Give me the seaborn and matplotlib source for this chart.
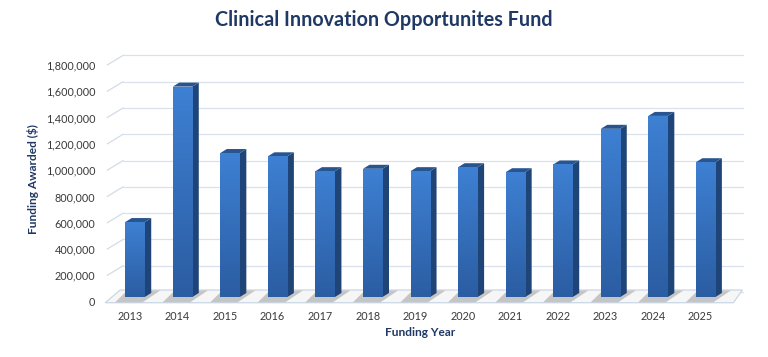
import numpy as np
import seaborn as sns
from matplotlib import pyplot as plt
from matplotlib.patches import Polygon
from matplotlib.colors import LinearSegmentedColormap
from matplotlib.ticker import FuncFormatter
from matplotlib.transforms import ScaledTranslation

years = ['2013', '2014', '2015', '2016', '2017', '2018', '2019',
         '2020', '2021', '2022', '2023', '2024', '2025']
funding = [570000, 1600000, 1095000, 1070000, 957000, 975000, 957000,
           987000, 949000, 1008000, 1279000, 1377000, 1025000]
y_ticks = list(range(0, 1800001, 200000))

title = 'Clinical Innovation Opportunites Fund'
navy = '#1f3864'
tick_col = '#3a3a3a'

sns.set_theme(style='white')
plt.rcParams['font.family'] = ['Lato', 'DejaVu Sans']

fig = plt.figure(figsize=(7.68, 3.57), dpi=100)
ax = fig.add_axes([111.2 / 768, 1 - 297 / 357, 618.2 / 768, 236.7 / 357])

sns.barplot(x=years, y=funding, color='#3672c2', width=0.41,
            saturation=1, linewidth=0, ax=ax, zorder=3)
bars = list(ax.patches)

ymax = 1800000
n = len(years)

# pixel -> data helpers for the fake 3d depth
px_x = 618.2 / n
px_y = 236.7 / ymax
def dx(px):
    return px / px_x
def dy(px):
    return px / px_y

bar_dx, bar_dy = dx(6.5), dy(4)
left, right = -0.5, n - 0.5

# slanted left wall ticks + back wall gridlines
for v in y_ticks:
    ax.plot([left - dx(4), left + dx(12)], [v - dy(4.7), v + dy(5)],
            color='#d3dce7', lw=0.9, zorder=0.5, clip_on=False)
    ax.plot([left + dx(12), right + dx(14)], [v + dy(5)] * 2,
            color='#d9e2ec', lw=0.9, zorder=0.5, clip_on=False)

# floor
ax.add_patch(Polygon([(left - dx(6), -dy(5.7)), (right + dx(4), -dy(5.7)),
                      (right + dx(13), dy(7)), (left + dx(9), dy(7))],
                     closed=True, facecolor='#f6f6f6', edgecolor='#c9d7e6',
                     lw=0.9, zorder=1, clip_on=False))

front_cmap = LinearSegmentedColormap.from_list('front', ['#2b5da2', '#3e80d3'])
side_col = '#1f4578'
top_col = '#28558f'

for p in bars:
    xl = p.get_x()
    xr = xl + p.get_width()
    h = p.get_height()
    # shadow on the floor
    ax.add_patch(Polygon([(xl + dx(2), dy(6.5)), (xr + bar_dx + dx(9), dy(6.5)),
                          (xr - dx(2), -dy(5.2)), (xl - dx(10), -dy(5.2))],
                         closed=True, facecolor='#b9b9b9', edgecolor='none',
                         alpha=0.8, zorder=1.5, clip_on=False))
    # side face
    ax.add_patch(Polygon([(xr, 0), (xr + bar_dx, bar_dy), (xr + bar_dx, h + bar_dy),
                          (xr, h)], closed=True, facecolor=side_col,
                         edgecolor='none', zorder=2, clip_on=False))
    # top face
    ax.add_patch(Polygon([(xl, h), (xr, h), (xr + bar_dx, h + bar_dy),
                          (xl + bar_dx, h + bar_dy)], closed=True,
                         facecolor=top_col, edgecolor='none', zorder=2,
                         clip_on=False))
    # gradient on the front face
    grad = np.linspace(0, 1, 100).reshape(-1, 1)
    im = ax.imshow(grad, extent=[xl, xr, 0, h], origin='lower', aspect='auto',
                   cmap=front_cmap, zorder=3.5)
    im.set_clip_path(p)

ax.set_ylim(0, ymax)
ax.set_xlim(left, right)
ax.set_aspect('auto')

ax.set_yticks(y_ticks)
ax.yaxis.set_major_formatter(FuncFormatter(lambda v, _: f'{int(v):,}'))
ax.tick_params(axis='y', length=0, pad=11.5, labelsize=7.8, labelcolor=tick_col)
ax.tick_params(axis='x', length=0, pad=10, labelsize=7.8, labelcolor=tick_col)
sns.despine(ax=ax, left=True, bottom=True)
ax.grid(False)

ax.set_xlabel('Funding Year', fontsize=8.6, fontweight='bold', color=navy,
              labelpad=4)
ax.set_ylabel('Funding Awarded ($)', fontsize=8.6, fontweight='bold',
              color=navy, labelpad=5)

# labels sit on the front plane, a little below / left of the bars
for lbl in ax.get_yticklabels():
    lbl.set_transform(lbl.get_transform() + ScaledTranslation(0, -0.047, fig.dpi_scale_trans))
for lbl in ax.get_xticklabels():
    lbl.set_transform(lbl.get_transform() + ScaledTranslation(-0.05, 0, fig.dpi_scale_trans))

fig.text(0.5, 1 - 20 / 357, title, ha='center', va='center', fontsize=14.2,
         fontweight='bold', color=navy)

fig.savefig('out.png', dpi=100)
